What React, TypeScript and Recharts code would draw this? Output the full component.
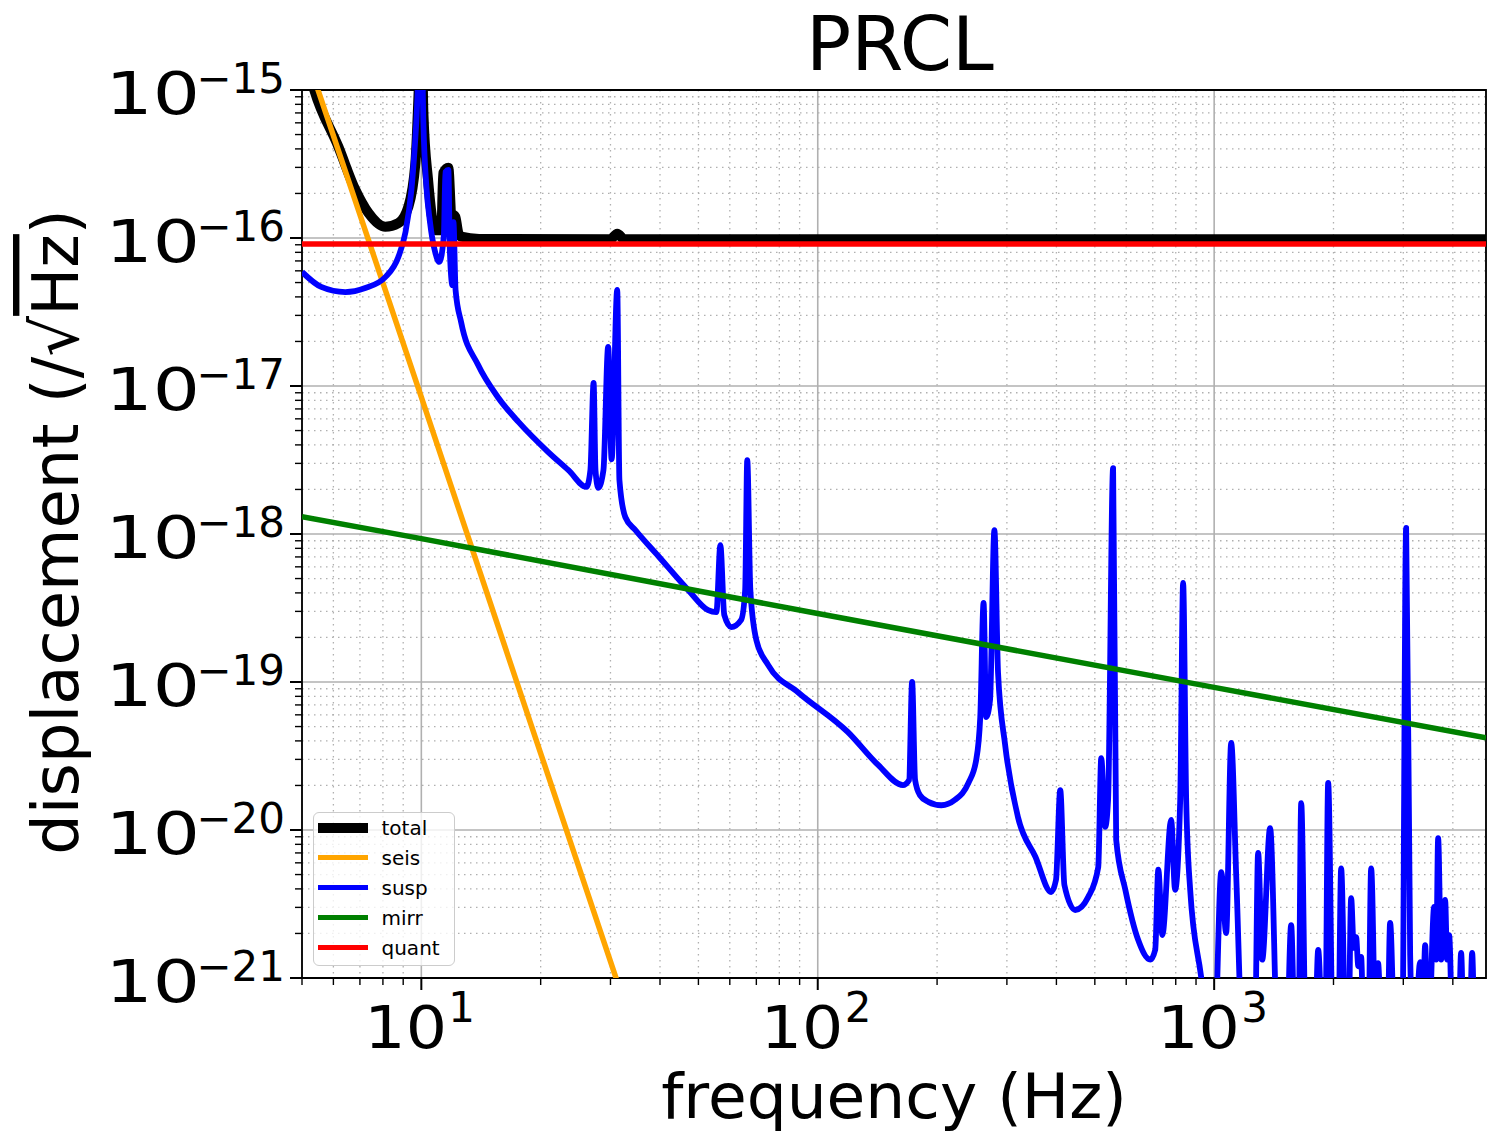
import React from 'react';
import { LineChart, Line, XAxis, YAxis, CartesianGrid, ReferenceArea, Legend, Label } from 'recharts';

const FONT = '"DejaVu Sans", Verdana, sans-serif';

const chartTitle = 'PRCL';
const xAxisTitle = 'frequency (Hz)';

// axis ticks
const X_DOMAIN = [5, 4850];
const Y_DOMAIN = [1e-21, 1e-15];
const xMajorTicks = [10, 100, 1000];
const xMajorExponents = ['1', '2', '3'];
const yMajorTicks = [1e-21, 1e-20, 1e-19, 1e-18, 1e-17, 1e-16, 1e-15];
const yMajorExponents = ['−21', '−20', '−19', '−18', '−17', '−16', '−15'];
const minorMultipliers = [2, 3, 4, 5, 6, 7, 8, 9];
const xDecades = [1, 10, 100, 1000];
const yDecades = [1e-21, 1e-20, 1e-19, 1e-18, 1e-17, 1e-16];

const xMinorTicks = xDecades
  .flatMap((d) => minorMultipliers.map((m) => d * m))
  .filter((v) => v >= X_DOMAIN[0] && v <= X_DOMAIN[1]);
const yMinorTicks = yDecades.flatMap((d) => minorMultipliers.map((m) => d * m));
const xAllTicks = [...xMajorTicks, ...xMinorTicks].sort((a, b) => a - b);
const yAllTicks = [...yMajorTicks, ...yMinorTicks].sort((a, b) => a - b);

// series: total
const totalFreq = [5, 5.37, 6.18, 6.82, 7.35, 8.11, 8.75, 9.27, 9.66, 9.85, 10.0, 10.12, 10.4, 10.85, 11.23, 11.36, 11.7, 11.9, 12.18, 12.4, 12.6, 14, 30, 31.2, 32.5, 4850];
const totalAsd = [2.1e-15, 1.0e-15, 4.12e-16, 2.11e-16, 1.48e-16, 1.19e-16, 1.26e-16, 1.62e-16, 3.2e-16, 1.0e-15, 3e-15, 7e-16, 2.47e-16, 1.13e-16, 1.13e-16, 2.75e-16, 2.98e-16, 1.48e-16, 1.39e-16, 1.08e-16, 1.02e-16, 9.85e-17, 9.8e-17, 1.07e-16, 9.8e-17, 9.8e-17];

// series: seis
const seisFreq = [5, 10, 20, 40];
const seisAsd = [2.1e-15, 8.4e-18, 3.3e-20, 1.3e-22];

// series: susp
const suspFreq = [
  5, 5.59, 6.43, 7.22, 8.11, 8.75, 9.11, 9.44, 9.71, 10.0, 10.12, 10.3, 10.5, 10.85, 11.1, 11.4, 11.5, 11.7, 11.8, 11.98,
  12.05, 12.2, 12.6, 13.9, 15.6, 17.6, 20.9, 23.5, 26.1, 26.7, 27.2, 27.5, 27.95, 28.8, 29.6, 30.2, 31.2, 31.6, 32.7, 34.7,
  39.6, 47.1, 52.9, 55.5, 56.8, 58.1, 60.5, 64.1, 65.6, 66.4, 67.6, 70.0, 75.0, 89.3, 119, 142, 164, 170, 173, 176,
  181, 190, 205, 222, 240, 251, 257, 262, 266, 272, 279, 285, 297, 320, 354, 388, 399, 409, 419, 446,
  481, 510, 519, 531, 540, 556, 566, 597, 643, 690, 710, 723, 740, 779, 797, 821, 835, 850, 870, 927,
  980, 1000, 1042, 1072, 1104, 1137, 1184, 1265, 1291, 1322, 1384, 1450, 1520, 1564, 1601, 1630, 1658, 1706, 1790, 1830,
  1883, 1905, 1939, 1996, 2054, 2091, 2150, 2178, 2216, 2250, 2281, 2310, 2348, 2389, 2446, 2489, 2561, 2591, 2653, 2731,
  2779, 2861, 2980, 3050, 3122, 3194, 3308, 3347, 3406, 3466, 3589, 3631, 3673, 3737, 3825, 3869, 3915, 4007, 4125, 4197,
  4272, 4397, 4475, 4553, 4850,
];
const suspAsd = [
  5.9e-17, 4.67e-17, 4.31e-17, 4.59e-17, 5.44e-17, 7.45e-17, 1.08e-16, 2.11e-16, 5.98e-16, 3e-15, 5.98e-16, 2.21e-16, 1.32e-16, 7.92e-17, 6.89e-17, 1.05e-16, 2.79e-16, 2.88e-16, 8.3e-17, 4.8e-17,
  1.28e-16, 4.46e-17, 2.7e-17, 1.39e-17, 8.4e-18, 5.7e-18, 3.58e-18, 2.7e-18, 2.08e-18, 2.7e-18, 1.05e-17, 2.7e-18, 2.05e-18, 2.7e-18, 1.84e-17, 3.2e-18, 4.46e-17, 2.32e-18, 1.3e-18, 1.06e-18,
  7.1e-19, 4.19e-19, 3.06e-19, 2.97e-19, 8.4e-19, 2.84e-19, 2.35e-19, 2.63e-19, 4.19e-19, 3.16e-18, 4.19e-19, 1.92e-19, 1.3e-19, 8.5e-20, 4.6e-20, 2.75e-20, 2.01e-20, 2.18e-20, 1.0e-19, 2.18e-20,
  1.72e-20, 1.55e-20, 1.47e-20, 1.6e-20, 2.08e-20, 2.97e-20, 5.8e-20, 3.42e-19, 5.8e-20, 7.55e-20, 1.06e-18, 1.15e-19, 3.75e-20, 1.22e-20, 6.6e-21, 3.81e-21, 4.59e-21, 1.86e-20, 4.25e-21, 2.88e-21,
  3.52e-21, 5.6e-21, 3.06e-20, 1.05e-20, 1.6e-20, 2.79e-18, 8.6e-21, 3.94e-21, 1.81e-21, 1.33e-21, 1.55e-21, 5.4e-21, 1.95e-21, 1.17e-20, 3.94e-21, 1.6e-20, 4.67e-19, 1.6e-20, 3.94e-21, 1.02e-21,
  3e-22, 3e-22, 5.2e-21, 2.01e-21, 3.87e-20, 4.81e-21, 3e-22, 3e-22, 7.0e-21, 1.33e-21, 1.03e-20, 3e-22, 3e-22, 2.28e-21, 3e-22, 3e-22, 1.52e-20, 3e-22, 3e-22, 1.55e-21,
  3e-22, 3e-22, 2.08e-20, 3e-22, 3e-22, 5.5e-21, 3e-22, 3e-22, 3.47e-21, 1.6e-21, 1.89e-21, 1.2e-21, 1.39e-21, 3e-22, 3e-22, 5.5e-21, 3e-22, 1.26e-21, 3e-22, 3e-22,
  2.36e-21, 3e-22, 3e-22, 1.1e-18, 1.43e-21, 3e-22, 1.28e-21, 3e-22, 1.67e-21, 3e-22, 3.02e-21, 1.33e-21, 8.8e-21, 1.33e-21, 3.37e-21, 1.33e-21, 1.95e-21, 3e-22, 3e-22, 1.48e-21,
  3e-22, 3e-22, 1.48e-21, 3e-22, 3e-22,
];

// series: mirr
const mirrFreq = [5, 10, 100, 1000, 4850];
const mirrAsd = [1.31e-18, 9.3e-19, 2.9e-19, 9.2e-20, 4.2e-20];

// series: quant
const quantFreq = [5, 4850];
const quantAsd = [9.1e-17, 9.1e-17];

const toRows = (fs: number[], vs: number[]) => fs.map((f, i) => ({ f, v: vs[i] }));

const series = [
  { name: 'total', color: '#000000', width: 10, curve: 'monotoneX', data: toRows(totalFreq, totalAsd) },
  { name: 'seis', color: '#FFA500', width: 5.5, curve: 'linear', data: toRows(seisFreq, seisAsd) },
  { name: 'susp', color: '#0000FF', width: 5.8, curve: 'monotoneX', data: toRows(suspFreq, suspAsd) },
  { name: 'mirr', color: '#008000', width: 5.5, curve: 'linear', data: toRows(mirrFreq, mirrAsd) },
  { name: 'quant', color: '#FF0000', width: 5.5, curve: 'linear', data: toRows(quantFreq, quantAsd) },
];

function XTick(props: any) {
  const { x, y, payload } = props;
  const idx = xMajorTicks.indexOf(payload.value);
  const major = idx >= 0;
  return (
    <g>
      <line x1={x} x2={x} y1={y} y2={y + (major ? 12 : 7)} stroke="#000" strokeWidth={major ? 2 : 1.4} />
      {major && (
        <g>
          <text transform={`translate(${x - 57} ${y + 70}) scale(1.12 1)`} x={0} y={0} textAnchor="start" fontFamily={FONT} fontSize={58} fill="#000">
            10
          </text>
          <text x={x + 27} y={y + 44} textAnchor="start" fontFamily={FONT} fontSize={42} fill="#000">
            {xMajorExponents[idx]}
          </text>
        </g>
      )}
    </g>
  );
}

function YTick(props: any) {
  const { x, y, payload } = props;
  const idx = yMajorTicks.indexOf(payload.value);
  const major = idx >= 0;
  return (
    <g>
      <line x1={x - (major ? 12 : 7)} x2={x} y1={y} y2={y} stroke="#000" strokeWidth={major ? 2 : 1.4} />
      {major && (
        <g>
          <text transform={`translate(${x - 102} ${y + 24}) scale(1.28 1)`} x={0} y={0} textAnchor="end" fontFamily={FONT} fontSize={58} fill="#000">
            10
          </text>
          <text x={x - 17} y={y + 3} textAnchor="end" fontFamily={FONT} fontSize={42} fill="#000">
            {yMajorExponents[idx]}
          </text>
        </g>
      )}
    </g>
  );
}

function LegendBox() {
  return (
    <div
      style={{
        width: 142,
        height: 154,
        boxSizing: 'border-box',
        border: '1.5px solid #cccccc',
        borderRadius: 6,
        background: 'rgba(255,255,255,0.8)',
        position: 'relative',
        fontFamily: FONT,
      }}
    >
      {series.map((s, i) => (
        <div key={s.name} style={{ position: 'absolute', left: 0, top: 1 + i * 30 - 1.5, height: 30, width: '100%' }}>
          <div style={{ position: 'absolute', left: 3.5, top: 15 - s.width / 2, width: 50, height: s.width, background: s.color }} />
          <div style={{ position: 'absolute', left: 67.5, top: 4, fontSize: 20, lineHeight: '22px', color: '#000', whiteSpace: 'nowrap' }}>
            {s.name}
          </div>
        </div>
      ))}
    </div>
  );
}

const XLabelContent = (props: any) => {
  const vb = props.viewBox || { x: 302, y: 978, width: 1184 };
  return (
    <text x={vb.x + vb.width / 2} y={vb.y + 140} textAnchor="middle" fontFamily={FONT} fontSize={63} fill="#000">
      {xAxisTitle}
    </text>
  );
};

const YLabelContent = (props: any) => {
  const vb = props.viewBox || { x: 0, y: 90, width: 302, height: 888 };
  const cy = vb.y + vb.height / 2 - 2;
  const cx = 78;
  return (
    <text x={cx} y={cy} transform={`rotate(-90 ${cx} ${cy})`} textAnchor="middle" fontFamily={FONT} fontSize={64} fill="#000">
      displacement (/√<tspan style={{ textDecoration: 'overline' }}>Hz</tspan>)
    </text>
  );
};

export default function App() {
  return (
    <div style={{ position: 'relative', width: 1487, height: 1134, background: '#fff', overflow: 'hidden' }}>
      <style>{`html,body{margin:0;padding:0;overflow:hidden;background:#fff;}`}</style>
      <div
        style={{
          position: 'absolute',
          left: 600,
          width: 600,
          top: 7,
          textAlign: 'center',
          fontFamily: FONT,
          fontSize: 75,
          lineHeight: '75px',
          color: '#000',
          zIndex: 2,
        }}
      >
        {chartTitle}
      </div>
      <LineChart width={1487} height={1134} margin={{ top: 90, right: 1, bottom: 0, left: 0 }}>
        <XAxis xAxisId="xmaj" dataKey="f" type="number" scale="log" domain={X_DOMAIN} allowDataOverflow ticks={xMajorTicks} interval={0} hide />
        <XAxis xAxisId="xmin" dataKey="f" type="number" scale="log" domain={X_DOMAIN} allowDataOverflow ticks={xMinorTicks} interval={0} hide />
        <YAxis yAxisId="ymaj" dataKey="v" type="number" scale="log" domain={Y_DOMAIN} allowDataOverflow ticks={yMajorTicks} interval={0} hide />
        <YAxis yAxisId="ymin" dataKey="v" type="number" scale="log" domain={Y_DOMAIN} allowDataOverflow ticks={yMinorTicks} interval={0} hide />
        <CartesianGrid xAxisId="xmin" yAxisId="ymin" stroke="#b0b0b0" strokeWidth={1.3} strokeDasharray="1.5 4.5" />
        <CartesianGrid xAxisId="xmaj" yAxisId="ymaj" stroke="#b0b0b0" strokeWidth={1.6} />
        <XAxis
          xAxisId="x"
          dataKey="f"
          type="number"
          scale="log"
          domain={X_DOMAIN}
          allowDataOverflow
          ticks={xAllTicks}
          interval={0}
          height={156}
          tickSize={0}
          tickMargin={0}
          tickLine={false}
          axisLine={false}
          tick={<XTick />}
        >
          <Label content={<XLabelContent />} />
        </XAxis>
        <YAxis
          yAxisId="y"
          dataKey="v"
          type="number"
          scale="log"
          domain={Y_DOMAIN}
          allowDataOverflow
          ticks={yAllTicks}
          interval={0}
          width={302}
          tickSize={0}
          tickMargin={0}
          tickLine={false}
          axisLine={false}
          tick={<YTick />}
        >
          <Label content={<YLabelContent />} />
        </YAxis>
        {series.map((s) => (
          <Line
            key={s.name}
            xAxisId="x"
            yAxisId="y"
            data={s.data}
            dataKey="v"
            name={s.name}
            type={s.curve as any}
            stroke={s.color}
            strokeWidth={s.width}
            strokeLinejoin="round"
            dot={false}
            activeDot={false}
            isAnimationActive={false}
          />
        ))}
        <ReferenceArea
          xAxisId="x"
          yAxisId="y"
          x1={X_DOMAIN[0]}
          x2={X_DOMAIN[1]}
          y1={Y_DOMAIN[0]}
          y2={Y_DOMAIN[1]}
          fill="none"
          fillOpacity={0}
          stroke="#000"
          strokeWidth={1.8}
          ifOverflow="visible"
        />
        <Legend
          layout="vertical"
          align="center"
          verticalAlign="middle"
          wrapperStyle={{ left: 313, top: 812, width: 142, height: 154 }}
          content={() => <LegendBox />}
        />
      </LineChart>
    </div>
  );
}
